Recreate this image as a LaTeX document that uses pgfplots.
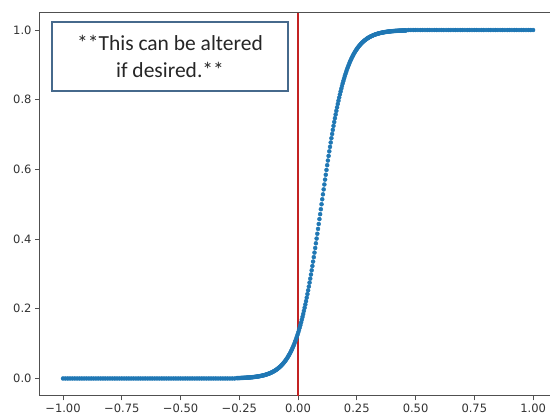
\documentclass[border=0pt]{standalone}
\usepackage{fontspec}
\setmainfont{DejaVu Sans}
\newfontfamily\carlito{Carlito}
\usepackage{pgfplots}
\pgfplotsset{compat=1.18}
\definecolor{mplblue}{RGB}{31,119,180}
\definecolor{vred}{RGB}{195,35,35}
\definecolor{boxblue}{RGB}{70,105,140}
\definecolor{spine}{RGB}{80,80,80}
\definecolor{ticktxt}{RGB}{50,50,50}
\begin{document}
\begin{tikzpicture}
\useasboundingbox (-39.5bp,-19.1bp) rectangle (510.5bp,395.9bp);
\begin{axis}[
  at={(0,0)}, anchor=south west, scale only axis,
  width=510.5bp, height=383.3bp,
  xmin=-1.1, xmax=1.072, ymin=-0.05, ymax=1.05,
  axis x line=box, axis y line*=left,
  xtick pos=left,
  tick align=outside,
  major tick length=4.5bp,
  axis line style={spine, line width=1bp},
  every tick/.style={spine, line width=0.9bp},
  xtick={-1,-0.75,-0.5,-0.25,0,0.25,0.5,0.75,1},
  xticklabels={−1.00,−0.75,−0.50,−0.25,0.00,0.25,0.50,0.75,1.00},
  ytick={0,0.2,0.4,0.6,0.8,1},
  yticklabels={0.0,0.2,0.4,0.6,0.8,1.0},
  tick label style={font=\fontsize{11.5bp}{13bp}\selectfont, text=ticktxt},
]
\addplot[vred, line width=1.4bp] coordinates {(0,-0.05) (0,1.05)};
\addplot[only marks, mark=*, color=mplblue, mark size=2.0bp, line width=0.4bp, mark options={solid, draw=mplblue, fill=mplblue}] table[row sep=\\] {
x y\\
-1.00 0\\ -0.99 0\\ -0.98 0\\ -0.97 0\\ -0.96 0\\ -0.95 0\\ -0.94 0\\ -0.93 0\\ -0.92 0\\ -0.91 0\\
-0.90 0\\ -0.89 0\\ -0.88 0\\ -0.87 0\\ -0.86 0\\ -0.85 0\\ -0.84 0\\ -0.83 0\\ -0.82 0\\ -0.81 0\\
-0.80 0\\ -0.79 0\\ -0.78 0\\ -0.77 0\\ -0.76 0\\ -0.75 0\\ -0.74 0\\ -0.73 0\\ -0.72 0\\ -0.71 0\\
-0.70 0\\ -0.69 0\\ -0.68 0\\ -0.67 0\\ -0.66 0\\ -0.65 0\\ -0.64 0\\ -0.63 0\\ -0.62 0\\ -0.61 0\\
-0.60 0\\ -0.59 0\\ -0.58 0\\ -0.57 0\\ -0.56 0\\ -0.55 0\\ -0.54 0\\ -0.53 0\\ -0.52 0\\ -0.51 0\\
-0.50 0\\ -0.49 0\\ -0.48 0\\ -0.47 0\\ -0.46 0\\ -0.45 0\\ -0.44 0\\ -0.43 0\\ -0.42 0\\ -0.41 0\\
-0.40 0\\ -0.39 0\\ -0.38 0\\ -0.37 0\\ -0.36 0\\ -0.35 0\\ -0.34 0\\ -0.33 0\\ -0.32 0\\ -0.31 0\\
-0.30 0\\ -0.29 0\\ -0.28 0\\ -0.27 0\\
-0.260 0.00107\\ -0.257 0.00113\\ -0.254 0.00120\\ -0.251 0.00127\\ -0.248 0.00134\\
-0.245 0.00142\\ -0.242 0.00151\\ -0.239 0.00159\\ -0.236 0.00169\\ -0.233 0.00179\\
-0.230 0.00189\\ -0.227 0.00200\\ -0.224 0.00212\\ -0.221 0.00224\\ -0.218 0.00237\\
-0.215 0.00251\\ -0.212 0.00266\\ -0.209 0.00282\\ -0.206 0.00298\\ -0.203 0.00316\\
-0.200 0.00333\\ -0.197 0.00353\\ -0.194 0.00374\\ -0.191 0.00395\\ -0.188 0.00419\\
-0.185 0.00443\\ -0.182 0.00469\\ -0.179 0.00496\\ -0.176 0.00525\\ -0.173 0.00556\\
-0.170 0.00588\\ -0.167 0.00622\\ -0.164 0.00659\\ -0.161 0.00697\\ -0.158 0.00738\\
-0.155 0.00781\\ -0.152 0.00826\\ -0.149 0.00874\\ -0.146 0.00925\\ -0.143 0.00979\\
-0.140 0.01035\\ -0.137 0.01095\\ -0.134 0.01159\\ -0.131 0.01226\\ -0.128 0.01297\\
-0.125 0.01372\\ -0.122 0.01452\\ -0.119 0.01535\\ -0.116 0.01624\\ -0.113 0.01717\\
-0.110 0.01816\\ -0.107 0.01921\\ -0.104 0.02031\\ -0.101 0.02148\\ -0.098 0.02271\\
-0.095 0.02401\\ -0.092 0.02538\\ -0.089 0.02683\\ -0.086 0.02836\\ -0.083 0.02997\\
-0.080 0.03168\\ -0.077 0.03347\\ -0.074 0.03537\\ -0.071 0.03736\\ -0.068 0.03947\\
-0.065 0.04169\\ -0.062 0.04402\\ -0.059 0.04649\\ -0.056 0.04908\\ -0.053 0.05181\\
-0.050 0.05468\\ -0.047 0.05770\\ -0.044 0.06088\\ -0.041 0.06422\\ -0.038 0.06774\\
-0.035 0.07143\\ -0.032 0.07530\\ -0.029 0.07937\\ -0.026 0.08363\\ -0.023 0.08810\\
-0.020 0.09279\\ -0.017 0.09770\\ -0.014 0.10285\\ -0.011 0.10823\\ -0.008 0.11385\\
-0.005 0.11973\\ -0.002 0.12587\\ 0.001 0.13227\\ 0.004 0.13895\\ 0.007 0.14592\\
0.010 0.15316\\ 0.013 0.16070\\ 0.016 0.16854\\ 0.019 0.17668\\ 0.022 0.18512\\
0.025 0.19388\\ 0.028 0.20294\\ 0.031 0.21232\\ 0.034 0.22201\\ 0.037 0.23201\\
0.040 0.24232\\ 0.043 0.25294\\ 0.046 0.26386\\ 0.049 0.27508\\ 0.052 0.28659\\
0.055 0.29838\\ 0.058 0.31045\\ 0.061 0.32279\\ 0.064 0.33537\\ 0.067 0.34819\\
0.070 0.36124\\ 0.073 0.37449\\ 0.076 0.38793\\ 0.079 0.40155\\ 0.082 0.41532\\
0.085 0.42923\\ 0.088 0.44324\\ 0.091 0.45736\\ 0.094 0.47153\\ 0.097 0.48575\\
0.100 0.50000\\
0.103 0.51425\\ 0.106 0.52847\\ 0.109 0.54264\\ 0.112 0.55676\\ 0.115 0.57077\\
0.118 0.58468\\ 0.121 0.59845\\ 0.124 0.61207\\ 0.127 0.62551\\ 0.130 0.63876\\
0.133 0.65181\\ 0.136 0.66463\\ 0.139 0.67721\\ 0.142 0.68955\\ 0.145 0.70162\\
0.148 0.71341\\ 0.151 0.72492\\ 0.154 0.73614\\ 0.157 0.74706\\ 0.160 0.75768\\
0.163 0.76799\\ 0.166 0.77799\\ 0.169 0.78768\\ 0.172 0.79706\\ 0.175 0.80612\\
0.178 0.81488\\ 0.181 0.82332\\ 0.184 0.83146\\ 0.187 0.83930\\ 0.190 0.84684\\
0.193 0.85408\\ 0.196 0.86105\\ 0.199 0.86773\\ 0.202 0.87413\\ 0.205 0.88027\\
0.208 0.88615\\ 0.211 0.89177\\ 0.214 0.89715\\ 0.217 0.90230\\ 0.220 0.90721\\
0.223 0.91190\\ 0.226 0.91637\\ 0.229 0.92063\\ 0.232 0.92470\\ 0.235 0.92857\\
0.238 0.93226\\ 0.241 0.93578\\ 0.244 0.93912\\ 0.247 0.94230\\ 0.250 0.94532\\
0.253 0.94819\\ 0.256 0.95092\\ 0.259 0.95351\\ 0.262 0.95598\\ 0.265 0.95831\\
0.268 0.96053\\ 0.271 0.96264\\ 0.274 0.96463\\ 0.277 0.96653\\ 0.280 0.96832\\
0.283 0.97003\\ 0.286 0.97164\\ 0.289 0.97317\\ 0.292 0.97462\\ 0.295 0.97599\\
0.298 0.97729\\ 0.301 0.97852\\ 0.304 0.97969\\ 0.307 0.98079\\ 0.310 0.98184\\
0.313 0.98283\\ 0.316 0.98376\\ 0.319 0.98465\\ 0.322 0.98548\\ 0.325 0.98628\\
0.328 0.98703\\ 0.331 0.98774\\ 0.334 0.98841\\ 0.337 0.98905\\ 0.340 0.98965\\
0.343 0.99021\\ 0.346 0.99075\\ 0.349 0.99126\\ 0.352 0.99174\\ 0.355 0.99219\\
0.358 0.99262\\ 0.361 0.99303\\ 0.364 0.99341\\ 0.367 0.99378\\ 0.370 0.99412\\
0.373 0.99444\\ 0.376 0.99475\\ 0.379 0.99504\\ 0.382 0.99531\\ 0.385 0.99557\\
0.388 0.99581\\ 0.391 0.99605\\ 0.394 0.99626\\ 0.397 0.99647\\ 0.400 0.99667\\
0.403 0.99684\\ 0.406 0.99702\\ 0.409 0.99718\\ 0.412 0.99734\\ 0.415 0.99749\\
0.418 0.99763\\ 0.421 0.99776\\ 0.424 0.99788\\ 0.427 0.99800\\ 0.430 0.99811\\
0.433 0.99821\\ 0.436 0.99831\\ 0.439 0.99841\\ 0.442 0.99849\\ 0.445 0.99858\\
0.448 0.99866\\ 0.451 0.99873\\ 0.454 0.99880\\ 0.457 0.99887\\ 0.460 0.99893\\
0.47 1\\ 0.48 1\\ 0.49 1\\ 0.50 1\\ 0.51 1\\ 0.52 1\\ 0.53 1\\ 0.54 1\\ 0.55 1\\ 0.56 1\\
0.57 1\\ 0.58 1\\ 0.59 1\\ 0.60 1\\ 0.61 1\\ 0.62 1\\ 0.63 1\\ 0.64 1\\ 0.65 1\\ 0.66 1\\
0.67 1\\ 0.68 1\\ 0.69 1\\ 0.70 1\\ 0.71 1\\ 0.72 1\\ 0.73 1\\ 0.74 1\\ 0.75 1\\ 0.76 1\\
0.77 1\\ 0.78 1\\ 0.79 1\\ 0.80 1\\ 0.81 1\\ 0.82 1\\ 0.83 1\\ 0.84 1\\ 0.85 1\\ 0.86 1\\
0.87 1\\ 0.88 1\\ 0.89 1\\ 0.90 1\\ 0.91 1\\ 0.92 1\\ 0.93 1\\ 0.94 1\\ 0.95 1\\ 0.96 1\\
0.97 1\\ 0.98 1\\ 0.99 1\\ 1.00 1\\
};
\node[draw=boxblue, line width=1.6bp, fill=white, minimum width=236bp, minimum height=69bp,
      inner sep=0pt, align=center, text=black!85,
      font=\carlito\fontsize{21.5bp}{27bp}\selectfont]
  at (axis cs:-0.5447,0.924) {**This can be altered\\if desired.**};
\end{axis}
\end{tikzpicture}
\end{document}
